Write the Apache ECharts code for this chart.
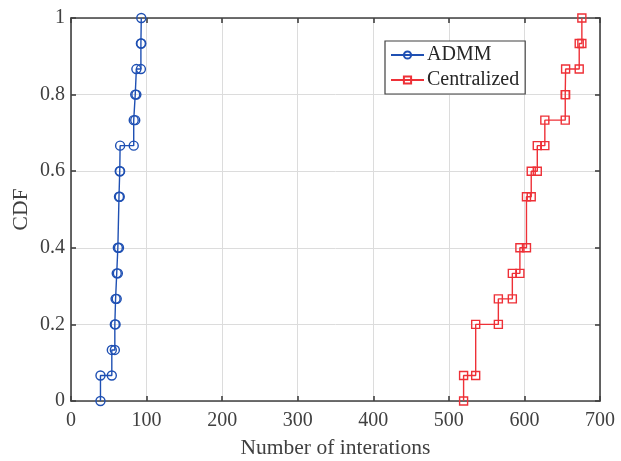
<!DOCTYPE html>
<html>
<head>
<meta charset="utf-8">
<script src="https://cdn.jsdelivr.net/npm/echarts@6/dist/echarts.min.js"></script>
<style>
  html, body { margin: 0; padding: 0; background: #fff; }
  #chart { width: 621px; height: 461px; }
</style>
</head>
<body>
<div id="chart"></div>
<script>
// empirical CDF steps (unique sorted iteration counts and CDF level reached there)
const admmIters = [39, 54, 58, 59, 60.5, 62, 63.5, 64.5, 65, 83, 85, 86.5, 92.5, 93];
const admmCdf = [0.0667, 0.1333, 0.2, 0.2667, 0.3333, 0.4, 0.5333, 0.6, 0.6667, 0.7333, 0.8, 0.8667, 0.9333, 1];
const centIters = [519.5, 535.5, 565.5, 584, 594, 602.7, 609, 617, 627, 654, 654.5, 672.5, 676];
const centCdf = [0.0667, 0.2, 0.2667, 0.3333, 0.4, 0.5333, 0.6, 0.6667, 0.7333, 0.8, 0.8667, 0.9333, 1];
const xTicks = [0, 100, 200, 300, 400, 500, 600, 700];
const yTicks = [0, 0.2, 0.4, 0.6, 0.8, 1];

const font = "'Liberation Serif', 'DejaVu Serif', serif";
const axisColor = "#404040";

// corners of the stair plot, like plot(stairs(x,f)) in matlab
function stairs(xs, fs) {
  const pts = [[xs[0], 0]];
  for (let i = 0; i < xs.length; i++) {
    pts.push([xs[i], fs[i]]);
    if (i + 1 < xs.length) pts.push([xs[i + 1], fs[i]]);
  }
  return pts;
}

const chart = echarts.init(document.getElementById("chart"), null, { renderer: "canvas" });

const baseX = {
  type: "value",
  min: xTicks[0],
  max: xTicks[xTicks.length - 1],
  interval: 100,
  axisLine: { onZero: false, lineStyle: { color: axisColor, width: 1.6 } },
  axisTick: { inside: true, length: 5, lineStyle: { color: axisColor, width: 1.6 } }
};
const baseY = {
  type: "value",
  min: yTicks[0],
  max: yTicks[yTicks.length - 1],
  interval: 0.2,
  axisLine: { onZero: false, lineStyle: { color: axisColor, width: 1.6 } },
  axisTick: { inside: true, length: 5, lineStyle: { color: axisColor, width: 1.6 } }
};

chart.setOption({
  animation: false,
  backgroundColor: "#fff",
  textStyle: { fontFamily: font },
  grid: { left: 71, right: 21, top: 18, bottom: 60, containLabel: false, outerBoundsMode: "none" },
  legend: {
    orient: "vertical",
    left: 385,
    top: 41,
    padding: [4, 6, 4, 5],
    itemWidth: 33,
    itemHeight: 9,
    itemGap: 5,
    backgroundColor: "#fff",
    borderColor: axisColor,
    borderWidth: 1.2,
    textStyle: { fontFamily: font, fontSize: 20, color: "#262626", padding: [0, 0, 0, -2] },
    data: ["ADMM", "Centralized"]
  },
  xAxis: [
    Object.assign({}, baseX, {
      position: "bottom",
      name: "Number of interations",
      nameLocation: "middle",
      nameGap: 36,
      nameTextStyle: { fontFamily: font, fontSize: 21.5, color: axisColor },
      axisLabel: { fontFamily: font, fontSize: 20, color: axisColor, margin: 10 },
      splitLine: { show: true, lineStyle: { color: "#dcdcdc", width: 1 } }
    }),
    Object.assign({}, baseX, {
      position: "top",
      axisLabel: { show: false },
      splitLine: { show: false }
    })
  ],
  yAxis: [
    Object.assign({}, baseY, {
      position: "left",
      name: "CDF",
      nameLocation: "middle",
      nameGap: 39,
      nameMoveOverlap: false,
      nameTextStyle: { fontFamily: font, fontSize: 21.5, color: axisColor },
      axisLabel: { fontFamily: font, fontSize: 20, color: axisColor, margin: 6 },
      splitLine: { show: true, lineStyle: { color: "#dcdcdc", width: 1 } }
    }),
    Object.assign({}, baseY, {
      position: "right",
      axisLabel: { show: false },
      splitLine: { show: false }
    })
  ],
  series: [
    {
      name: "ADMM",
      type: "line",
      data: stairs(admmIters, admmCdf),
      symbol: "circle",
      symbolSize: 9,
      showAllSymbol: true,
      lineStyle: { color: "#1f50b3", width: 1.4 },
      itemStyle: { color: "rgba(255,255,255,0)", borderColor: "#1f50b3", borderWidth: 1.4 },
      z: 3
    },
    {
      name: "Centralized",
      type: "line",
      data: stairs(centIters, centCdf),
      symbol: "rect",
      symbolSize: 8,
      showAllSymbol: true,
      lineStyle: { color: "#ee3037", width: 1.4 },
      itemStyle: { color: "rgba(255,255,255,0)", borderColor: "#ee3037", borderWidth: 1.4 },
      z: 3
    }
  ]
});
</script>
</body>
</html>
